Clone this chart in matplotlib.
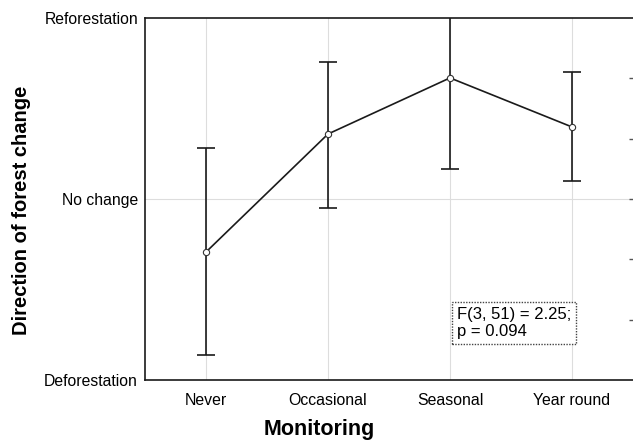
import numpy as np
import matplotlib
matplotlib.use('Agg')
import matplotlib.pyplot as plt

plt.rcParams['font.family'] = ['Liberation Sans', 'DejaVu Sans']

# data (scale: -1 deforestation, 0 no change, 1 reforestation)
categories = ['Never', 'Occasional', 'Seasonal', 'Year round']
means = [-0.293, 0.359, 0.669, 0.398]
upper = [0.282, 0.757, 1.05, 0.702]
lower = [-0.862, -0.050, 0.166, 0.099]
y_ticks = [-1, 0, 1]
y_labels = ['Deforestation', 'No change', 'Reforestation']
stat_text = 'F(3, 51) = 2.25;\np = 0.094'

x = np.arange(len(categories))
err = [np.array(means) - np.array(lower), np.array(upper) - np.array(means)]

fig = plt.figure(figsize=(6.33, 4.44), dpi=100)
ax = fig.add_axes([145 / 633, 1 - 380 / 444, 1 - 145 / 633, (380 - 18) / 444])

for xi in x:
    ax.axvline(xi, color='#dddddd', lw=0.8, zorder=0)
ax.axhline(0, color='#dddddd', lw=0.8, zorder=0)

ax.errorbar(x, means, yerr=err, fmt='none', ecolor='#1a1a1a', elinewidth=1.2,
            capsize=6.5, capthick=1.2, zorder=2)
ax.plot(x, means, color='#1a1a1a', lw=1.2, marker='o', markersize=4.5,
        markerfacecolor='white', markeredgecolor='#333333', markeredgewidth=0.8, zorder=3)

ax.set_xlim(-0.5, 3.5)
ax.set_ylim(-1, 1)
ax.set_xticks(x)
ax.set_xticklabels(categories, fontsize=11.4)
ax.set_yticks(y_ticks)
ax.set_yticklabels(y_labels, fontsize=11.3)
ax.tick_params(axis='both', length=0, pad=5)
ax.tick_params(axis='x', pad=9)
ax.spines['right'].set_visible(False)
for s in ['left', 'top', 'bottom']:
    ax.spines[s].set_linewidth(1.2)
    ax.spines[s].set_color('#1a1a1a')

# small ticks on the right edge
ax2 = ax.twinx()
ax2.set_ylim(-1, 1)
ax2.set_yticks([-2 / 3, -1 / 3, 0, 1 / 3, 2 / 3])
ax2.set_yticklabels([])
ax2.tick_params(axis='y', direction='in', length=3, width=1, color='#555555')
for s in ax2.spines.values():
    s.set_visible(False)

ax.text(2.055, -0.685, stat_text, fontsize=12, va='center', ha='left', linespacing=1.1,
        bbox=dict(boxstyle='square,pad=0.3', facecolor='white', edgecolor='#444444',
                  linestyle=(0, (1, 1)), linewidth=1))

fig.text(319 / 633, 1 - 429 / 444, 'Monitoring', fontsize=15.5, fontweight='bold',
         ha='center', va='center')
fig.text(22 / 633, 1 - 210 / 444, 'Direction of forest change', fontsize=14.5,
         fontweight='bold', rotation=90, ha='center', va='center')

fig.savefig('out.png', dpi=100)
